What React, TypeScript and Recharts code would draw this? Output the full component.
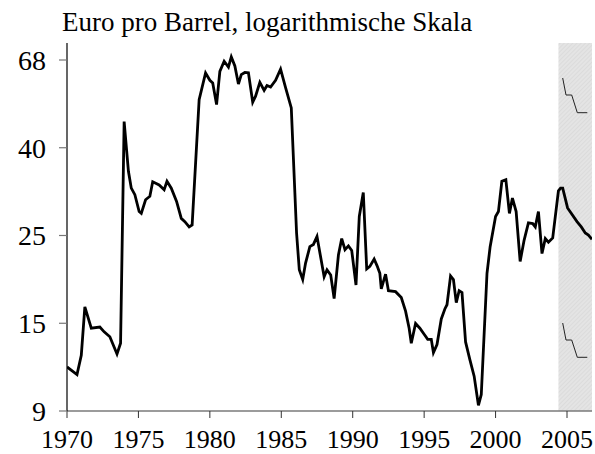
import { LineChart, Line, XAxis, YAxis, ReferenceArea } from "recharts"

// quarterly-ish readings of the oil price, euro per barrel
const YEARS = [
  1970.0, 1970.7, 1971.0, 1971.25, 1971.7, 1972.3, 1972.6, 1973.0, 1973.5, 1973.75,
  1974.0, 1974.3, 1974.5, 1974.75, 1975.05, 1975.2, 1975.5, 1975.8, 1976.0, 1976.45,
  1976.8, 1977.0, 1977.3, 1977.67, 1978.0, 1978.25, 1978.55, 1978.76, 1979.25, 1979.7,
  1980.0, 1980.2, 1980.47, 1980.7, 1981.0, 1981.3, 1981.5, 1981.75, 1982.0, 1982.2,
  1982.45, 1982.7, 1983.0, 1983.2, 1983.5, 1983.8, 1984.0, 1984.25, 1984.6, 1984.95,
  1985.3, 1985.7, 1986.07, 1986.26, 1986.5, 1986.7, 1987.0, 1987.25, 1987.5, 1988.0,
  1988.2, 1988.46, 1988.7, 1989.0, 1989.23, 1989.46, 1989.7, 1989.93, 1990.23, 1990.46,
  1990.74, 1990.98, 1991.2, 1991.5, 1991.7, 1991.9, 1992.0, 1992.3, 1992.5, 1993.0,
  1993.4, 1993.7, 1993.95, 1994.1, 1994.4, 1994.7, 1995.0, 1995.25, 1995.5, 1995.65,
  1995.9, 1996.2, 1996.45, 1996.6, 1996.85, 1997.05, 1997.25, 1997.45, 1997.65, 1997.9,
  1998.2, 1998.5, 1998.8, 1999.0, 1999.4, 1999.62, 2000.0, 2000.2, 2000.44, 2000.72,
  2000.97, 2001.18, 2001.44, 2001.72, 2002.0, 2002.3, 2002.6, 2002.78, 2003.0, 2003.25,
  2003.48, 2003.7, 2004.0, 2004.4, 2004.55, 2004.7, 2005.04, 2005.7, 2006.0, 2006.28,
  2006.5, 2006.75,
]

const PRICES = [
  11.6, 11.1, 12.4, 16.4, 14.5, 14.6, 14.2, 13.8, 12.5, 13.3,
  47.7, 35.8, 32.5, 31.3, 28.4, 28.1, 30.4, 31.0, 33.7, 33.1,
  32.2, 33.8, 32.5, 30.1, 27.3, 26.8, 26.0, 26.3, 54.1, 63.1,
  60.5, 59.6, 52.6, 63.7, 67.5, 65.3, 69.2, 65.7, 59.2, 62.5,
  63.3, 63.2, 53.3, 55.2, 59.8, 57.1, 58.7, 58.2, 60.5, 64.5,
  58.0, 51.6, 25.1, 20.3, 19.2, 21.1, 23.2, 23.5, 24.6, 19.5,
  20.3, 19.7, 17.2, 22.1, 24.3, 22.8, 23.3, 22.7, 18.6, 27.6,
  31.7, 20.4, 20.7, 21.6, 20.8, 19.9, 18.2, 19.8, 18.0, 17.9,
  17.3, 16.0, 14.5, 13.3, 14.9, 14.5, 14.0, 13.6, 13.6, 12.6,
  13.2, 15.3, 16.2, 16.6, 19.6, 19.2, 16.8, 18.0, 17.8, 13.4,
  12.1, 11.0, 9.3, 9.9, 19.9, 23.2, 27.6, 28.4, 33.8, 34.1,
  28.1, 30.7, 28.4, 21.3, 24.1, 26.6, 26.5, 26.0, 28.4, 22.3,
  24.3, 23.8, 24.4, 32.0, 32.5, 32.5, 29.0, 26.8, 26.0, 25.1,
  24.8, 24.2,
]

const X_TICKS = [1970, 1975, 1980, 1985, 1990, 1995, 2000, 2005]
// evenly spaced on the log axis, labelled with rounded values
const Y_TICKS = [9, 14.92, 24.74, 41.02, 68]
const Y_TICK_LABELS = ["9", "15", "25", "40", "68"]

const SHADE_FROM = 2004.4
const SHADE_TO = 2006.75

const TITLE = "Euro pro Barrel, logarithmische Skala"

const data = YEARS.map((year, i) => ({ year, price: PRICES[i] }))

const FONT = "'Liberation Serif', 'Times New Roman', serif"

export default function App() {
  return (
    <div style={{ position: "absolute", left: 0, top: 0, width: 595, height: 454, background: "#fff" }}>
      <LineChart width={595} height={454} data={data} margin={{ top: 43, right: 3, bottom: 0, left: 0 }}>
        <defs>
          <pattern id="hatch" width="3" height="3" patternUnits="userSpaceOnUse" patternTransform="rotate(45)">
            <rect width="3" height="3" fill="#e4e4e4" />
            <line x1="0" y1="0" x2="0" y2="3" stroke="#d2d2d2" strokeWidth="1" />
          </pattern>
        </defs>
        <XAxis
          dataKey="year"
          type="number"
          domain={[1970, SHADE_TO]}
          ticks={X_TICKS}
          allowDataOverflow
          height={43}
          tickSize={7}
          tickMargin={12}
          axisLine={{ stroke: "#7a7a7a", strokeWidth: 1.5 }}
          tickLine={{ stroke: "#333", strokeWidth: 1 }}
          tick={{ fill: "#000", fontSize: 26, fontFamily: FONT }}
          interval={0}
        />
        <XAxis xAxisId="top" orientation="top" dataKey="year" type="number" domain={[1970, SHADE_TO]} height={0} tick={false} tickLine={false} axisLine={{ stroke: "#666", strokeWidth: 1.5 }} />
        <YAxis
          scale="log"
          domain={[9, 75]}
          ticks={Y_TICKS}
          allowDataOverflow
          width={67}
          tickSize={8}
          tickMargin={13}
          tickFormatter={(v: number) => Y_TICK_LABELS[Y_TICKS.indexOf(v)] ?? ""}
          axisLine={{ stroke: "#000", strokeWidth: 1.2 }}
          tickLine={{ stroke: "#777", strokeWidth: 1.2 }}
          tick={{ fill: "#000", fontSize: 28, fontFamily: FONT }}
          interval={0}
        />
        <YAxis yAxisId="right" orientation="right" width={0} domain={[9, 75]} scale="log" tick={false} tickLine={false} axisLine={{ stroke: "#000", strokeWidth: 1.2 }} />
        <ReferenceArea x1={SHADE_FROM} x2={SHADE_TO} y1={9} y2={75} fill="url(#hatch)" fillOpacity={1} stroke="none" ifOverflow="hidden" />
        <Line
          type="linear"
          dataKey="price"
          stroke="#000"
          strokeWidth={2.8}
          dot={false}
          isAnimationActive={false}
        />
      </LineChart>
      <svg width={595} height={454} style={{ position: "absolute", left: 0, top: 0, pointerEvents: "none" }}>
        <text x={62} y={31} fontSize={27} fontFamily={FONT} fill="#000">{TITLE}</text>
        <polyline points="562.7,78 566,95 571.7,95 577.3,112.7 587.3,112.7" fill="none" stroke="#222" strokeWidth={1} />
        <polyline points="562.7,323 566,340 571.7,340 577.3,357.3 587.3,357.3" fill="none" stroke="#222" strokeWidth={1} />
      </svg>
    </div>
  )
}
